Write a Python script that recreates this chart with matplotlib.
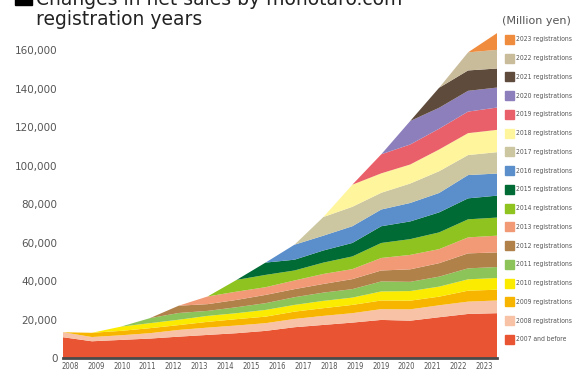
import matplotlib
matplotlib.use("Agg")
import matplotlib.pyplot as plt
from matplotlib.patches import Rectangle
from matplotlib import font_manager

# fiscal years on the x axis and the labels printed under it
fiscal_years = list(range(2008, 2024))
year_labels = ["2008", "2009", "2010", "2011", "2012", "2013", "2014", "2015", "2016",
               "2017", "2018", "2019", "2019", "2020", "2021", "2022", "2023"]

# net sales per registration cohort (million yen), one value per fiscal year
sales_2007 = [10800, 8700, 9400, 10100, 11100, 12000, 12900, 14100, 16000, 17200, 18400, 19800, 19400, 21200, 22900, 23300]
sales_2008 = [2600, 2200, 2400, 2800, 3500, 3800, 4000, 4000, 4300, 4700, 4900, 5600, 5900, 6200, 6400, 6600]
sales_2009 = [0, 2200, 2300, 2600, 2500, 3000, 3300, 3400, 3800, 4000, 4300, 4500, 4500, 4500, 5700, 5600]
sales_2010 = [0, 0, 2200, 2600, 2800, 3100, 3100, 3500, 3500, 3800, 3800, 4700, 5000, 5200, 5900, 6100]
sales_2011 = [0, 0, 0, 2600, 3500, 2600, 3100, 3500, 4000, 4300, 4400, 5200, 4800, 5200, 5700, 5700]
sales_2012 = [0, 0, 0, 0, 3800, 3500, 3800, 4300, 4200, 4500, 5200, 5700, 6500, 7000, 7800, 7600]
sales_2013 = [0, 0, 0, 0, 0, 4000, 4300, 4000, 4500, 5200, 5200, 6500, 7500, 7300, 8300, 8700]
sales_2014 = [0, 0, 0, 0, 0, 0, 6100, 6400, 5200, 5900, 6600, 7800, 8200, 8700, 9400, 9400]
sales_2015 = [0, 0, 0, 0, 0, 0, 0, 6400, 5600, 6300, 7000, 8700, 9200, 10400, 10900, 11400]
sales_2016 = [0, 0, 0, 0, 0, 0, 0, 0, 7800, 7700, 8700, 8700, 9600, 10100, 12100, 11500]
sales_2017 = [0, 0, 0, 0, 0, 0, 0, 0, 0, 9700, 10100, 8700, 10100, 11300, 10400, 11100]
sales_2018 = [0, 0, 0, 0, 0, 0, 0, 0, 0, 0, 11500, 10100, 9900, 11300, 11400, 11600]
sales_2019 = [0, 0, 0, 0, 0, 0, 0, 0, 0, 0, 0, 9900, 10400, 10800, 11200, 11600]
sales_2020 = [0, 0, 0, 0, 0, 0, 0, 0, 0, 0, 0, 0, 12200, 10900, 10800, 10400]
sales_2021 = [0, 0, 0, 0, 0, 0, 0, 0, 0, 0, 0, 0, 0, 10400, 10600, 9900]
sales_2022 = [0, 0, 0, 0, 0, 0, 0, 0, 0, 0, 0, 0, 0, 0, 9400, 9700]
sales_2023 = [0, 0, 0, 0, 0, 0, 0, 0, 0, 0, 0, 0, 0, 0, 0, 8700]

cohorts = [sales_2007, sales_2008, sales_2009, sales_2010, sales_2011, sales_2012,
           sales_2013, sales_2014, sales_2015, sales_2016, sales_2017, sales_2018,
           sales_2019, sales_2020, sales_2021, sales_2022, sales_2023]
cohort_labels = ["2007 and before"] + [f"{y} registrations" for y in range(2008, 2024)]
colors = ["#E95532", "#F7C2A6", "#F8B500", "#FAEB00", "#8CC45A", "#B1814A",
          "#F29A76", "#8FC31F", "#006B35", "#5B8FCB", "#CCC7A0", "#FFF59D",
          "#E9606A", "#8D7FBC", "#5E4B3C", "#C9BC9A", "#F08C3E"]

# narrow face for the small labels if one is around
narrow = font_manager.FontProperties(family="DejaVu Sans", stretch="condensed")
is_narrow = "Condensed" in font_manager.findfont(narrow)
small_size = 4.9 if is_narrow else 4.5

W, H = 575, 371
fig = plt.figure(figsize=(W / 100, H / 100), dpi=100)
ax = fig.add_axes([63 / W, 13 / H, 434 / W, 327 / H])

x = list(range(len(fiscal_years)))
ax.stackplot(x, *cohorts, colors=colors, linewidth=0)

ax.set_xlim(0, len(fiscal_years) - 1)
ax.set_ylim(0, 170000)
ax.set_yticks(range(0, 160001, 20000))
ax.set_yticklabels([f"{v:,}" for v in range(0, 160001, 20000)],
                   fontsize=7.5, color="#555555")

# labels are spread evenly, independent of the data points
tick_pos = [0.24 + k * 0.895 for k in range(len(year_labels))]
ax.set_xticks(tick_pos)
ax.set_xticklabels(year_labels, fontsize=5.5, color="#555555",
                   fontstretch="condensed")
ax.tick_params(length=0)
ax.tick_params(axis="x", pad=3)
ax.tick_params(axis="y", pad=4)

for side in ["top", "right", "left"]:
    ax.spines[side].set_visible(False)
ax.spines["bottom"].set_color("#4A4A4A")
ax.spines["bottom"].set_linewidth(2)

# title, first line partly above the canvas
fig.add_artist(Rectangle((15 / W, (H - 5) / H), 17 / W, 14 / H,
                         transform=fig.transFigure, color="black"))
fig.text(36 / W, (H - 5) / H, "Changes in net sales by monotaro.com",
         fontsize=13.5, color="#222222", va="baseline")
fig.text(36 / W, (H - 25) / H, "registration years",
         fontsize=13.5, color="#222222", va="baseline")

# legend, newest cohort on top
fig.text(502 / W, (H - 21) / H, "(Million yen)", fontsize=8,
         color="#555555", va="center")
for i, (lab, col) in enumerate(zip(cohort_labels[::-1], colors[::-1])):
    yc = 39.5 + i * 18.74
    fig.add_artist(Rectangle((505 / W, (H - yc - 4.5) / H), 9 / W, 9 / H,
                             transform=fig.transFigure, color=col))
    fig.text(516 / W, (H - yc) / H, lab, fontsize=small_size, color="#555555",
             va="center", fontstretch="condensed")

fig.savefig("out.png", dpi=100)
